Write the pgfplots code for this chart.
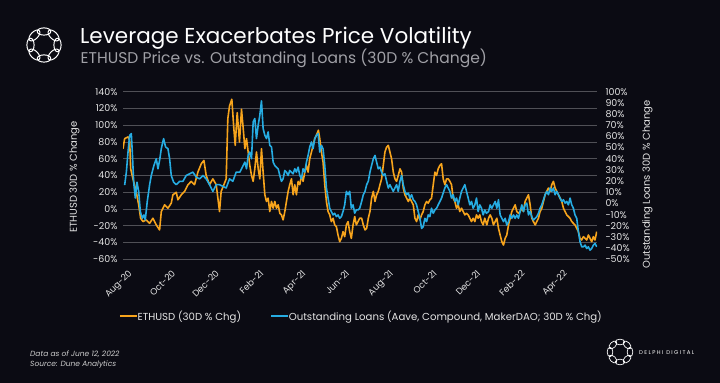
\documentclass[border=0pt]{standalone}
\usepackage{fontspec}
\setmainfont{Poppins}
\usepackage{pgfplots}
\usepackage{pgfplotstable}
\pgfplotsset{compat=1.18}
\definecolor{bg}{RGB}{11,11,19}
\definecolor{ethc}{RGB}{247,164,28}
\definecolor{loanc}{RGB}{38,172,226}
\definecolor{gridc}{RGB}{80,80,86}
\definecolor{tickc}{RGB}{228,228,228}
\definecolor{subc}{RGB}{160,160,166}
\definecolor{footc}{RGB}{205,205,205}

% ETHUSD 30D % change (left axis), x = days since 1 Aug 2020
\pgfplotstableread{
day val
0 72
2.3 84
4.7 85
7.0 86
9.3 82
10.7 48
13.9 36
18.6 20
21.9 5
24.6 -11
27.9 -15
32.5 -13
37.2 -17
41.8 -11
46.5 -19
51.1 -25
53.5 -3
58.1 5
62.8 1
67.4 7
69.7 17
74.4 20
76.7 11
81.4 17
86.0 21
90.7 29
95.3 33
99.9 29
104.6 44
109.3 54
113.0 58
116.2 40
120.9 29
125.5 36
130.2 29
132.5 13
134.8 -3
137.1 21
140.9 29
144.1 36
146.4 108
148.8 123
152.0 131
154.8 96
156.7 76
159.5 115
162.7 80
165.5 119
167.9 96
170.2 72
172.5 84
174.8 68
177.1 52
179.5 40
181.8 33
184.1 48
186.4 68
188.8 48
191.1 36
193.4 72
195.7 44
198.1 17
200.4 9
202.7 13
205.0 -3
207.4 9
209.7 1
212.0 9
214.3 1
216.7 5
219.0 -5
221.3 -7
223.6 -13
226.0 -3
228.3 9
230.6 21
232.9 29
235.3 36
237.6 17
239.9 29
242.2 17
244.6 33
246.9 29
249.2 40
251.5 33
253.9 44
256.2 52
258.5 44
260.8 60
263.2 68
265.5 76
267.8 84
270.1 88
272.9 94
274.8 84
277.1 68
279.4 56
281.8 29
284.1 9
286.4 -3
288.7 -7
291.0 -15
293.4 -11
295.7 -19
298.0 -21
300.3 -31
302.7 -39
305.0 -35
307.3 -27
309.6 -33
312.0 -19
314.3 -15
316.6 -27
318.9 -35
321.3 -19
323.6 -9
325.9 -19
328.2 -15
330.6 -11
333.3 -11
335.6 -19
338.0 -25
340.3 -23
342.6 -11
344.9 -3
347.2 13
349.6 21
351.9 9
354.2 17
356.5 21
358.9 29
361.2 36
363.5 52
365.8 68
368.2 74
370.5 76
372.8 68
375.1 60
377.5 44
379.8 36
382.1 33
384.4 40
386.8 48
389.1 44
391.4 25
393.7 17
396.1 13
398.4 9
400.7 13
403.0 9
405.4 5
407.7 -11
410.0 -15
412.3 -7
414.7 -13
417.0 -7
419.3 -3
421.6 5
424.0 9
426.3 7
428.6 11
430.9 13
433.3 29
435.6 44
437.9 40
440.2 48
442.6 52
444.9 54
447.2 36
449.5 29
451.9 36
454.2 36
456.5 33
458.8 29
461.1 13
463.5 9
465.8 1
468.1 5
470.4 -3
472.8 1
475.1 -3
477.4 -7
479.7 -5
482.1 -7
484.4 -11
486.7 -15
489.0 -11
491.4 -15
493.7 -7
496.0 -11
498.3 -7
500.7 -15
503.0 -19
505.3 -11
508.1 -19
510.5 -11
512.8 -7
515.1 -11
517.4 -19
519.8 -15
522.1 -11
524.4 -23
526.7 -31
529.1 -39
531.4 -43
533.7 -35
536.0 -31
538.4 -19
540.7 -11
543.0 -3
545.3 1
547.7 5
550.0 -3
552.3 -5
554.6 -3
557.0 1
559.3 -3
561.6 9
563.9 13
566.3 17
568.6 5
570.9 -11
573.2 -15
575.6 -19
577.9 -15
580.2 -11
582.5 -3
584.9 1
587.2 9
589.5 17
591.8 21
594.2 25
596.5 21
598.8 29
601.1 33
603.5 25
605.8 21
608.1 17
610.4 13
612.8 9
615.1 1
617.4 -3
619.7 -7
622.1 -9
624.4 -11
626.7 -15
629.0 -17
631.3 -19
633.7 -23
636.0 -27
638.3 -35
640.6 -37
643.0 -33
645.3 -35
647.6 -37
649.9 -31
652.3 -35
654.6 -39
656.9 -33
659.2 -37
661.6 -27
}\ethtable

% Outstanding loans 30D % change (right axis)
\pgfplotstableread{
day val
2.3 16.4
4.7 28
7.0 46
9.3 61
11.6 62.5
13.0 46
14.9 19
17.2 4.8
19.5 19
21.9 10.8
24.2 -7.3
27.0 -13.3
29.3 -10.3
31.1 -14.8
33.9 1.8
37.2 16.8
39.5 25
43.2 34
46.5 40
48.8 31
51.1 38.5
53.5 49
56.7 58
59.5 50.5
62.8 49
65.1 40
67.4 25
70.7 19
74.4 16.8
79.0 19.8
83.7 19.8
88.3 25
93.0 26.5
97.6 28
102.3 23.5
106.9 22
111.6 25
116.2 22
120.9 16.8
125.5 10.8
130.2 16.8
134.8 16.8
139.5 15.3
144.1 13.8
148.8 22
153.4 19.8
158.1 28
163.2 28
165.5 31
167.9 34
170.2 37
172.5 31
174.8 43
177.1 46
179.5 40
181.8 73
184.1 76
186.4 58
188.8 70
191.1 79
193.4 91.8
195.7 67
198.1 61
200.4 58
202.7 64
205.0 52
207.4 50.5
209.7 37
212.0 34
214.3 32.5
216.7 31
219.0 25
221.3 19.8
223.6 22
226.0 29.5
228.3 28
230.6 25
232.9 29.5
235.3 28
237.6 26.5
239.9 31
242.2 28
244.6 32.5
246.9 25
249.2 22
251.5 31
253.9 28
256.2 37
258.5 43
260.8 50.5
263.2 55
265.5 49
267.8 58
270.1 61
272.5 62.5
274.8 46
277.1 52
279.4 49
281.8 34
284.1 13.8
286.4 4.8
288.7 -4.3
291.0 -7.3
293.4 -10.3
295.7 -8.8
298.0 -11.8
300.3 -10.3
302.7 -13.3
305.0 -11.8
307.3 -7.3
309.6 -1.3
312.0 10.8
314.3 7.8
316.6 10.8
318.9 -4.3
321.3 -1.3
323.6 -8.8
325.9 -5.8
328.2 -5.8
330.6 -4.3
333.3 1.8
335.6 7.8
338.0 10.8
340.3 16.8
342.6 19.8
344.9 28
347.2 34
349.6 40
351.9 43
354.2 37
356.5 31
358.9 32.5
361.2 28
363.5 25
365.8 26.5
368.2 19.8
370.5 13.8
372.8 16.8
375.1 13.8
377.5 10.8
379.8 13.8
382.1 16.8
384.4 10.8
386.8 19.8
389.1 25
391.4 16.8
393.7 10.8
396.1 7.8
398.4 9.3
400.7 4.8
403.0 7.8
405.4 3.3
407.7 1.8
410.0 -1.3
412.3 -7.3
414.7 -13.3
417.0 -22.3
419.3 -20.8
421.6 -13.3
424.0 -16.3
426.3 -10.3
428.6 -11.8
430.9 -4.3
433.3 -8.8
435.6 -5.8
437.9 -4.3
440.2 -1.3
442.6 1.8
444.9 4.8
447.2 9.3
449.5 13.8
451.9 16.8
454.2 13.8
456.5 10.8
458.8 4.8
461.1 7.8
463.5 1.8
465.8 4.8
468.1 -1.3
470.4 4.8
472.8 10.8
475.1 13.8
477.4 16.8
479.7 10.8
482.1 4.8
484.4 -1.3
486.7 1.8
489.0 -4.3
491.4 -1.3
493.7 4.8
496.0 -7.3
498.3 -1.3
500.7 -4.3
503.0 -10.3
505.3 -5.8
507.6 -8.8
510.5 -7.3
512.8 -1.3
515.1 -4.3
517.4 -1.3
519.8 1.8
522.1 -4.3
524.4 3.3
526.7 -10.3
529.1 -13.3
531.4 -16.3
533.7 -13.3
536.0 -19.3
538.4 -16.3
540.7 -10.3
543.0 -13.3
545.3 -10.3
547.7 -13.3
550.0 -10.3
552.3 -13.3
554.6 -7.3
557.0 -1.3
559.3 -7.3
561.6 -1.3
563.9 0.3
566.3 -10.3
568.6 -7.3
570.9 -11.8
573.2 -14.8
575.6 -13.3
577.9 -11.8
580.2 -8.8
582.5 -4.3
584.9 -1.3
587.2 3.3
589.5 7.8
591.8 10.8
594.2 7.8
596.5 13.8
598.8 10.8
601.1 13.8
603.5 7.8
605.8 10.8
608.1 7.8
610.4 4.8
612.8 1.8
615.1 3.3
617.4 0.3
619.7 1.8
622.1 -1.3
624.4 4.8
626.7 -1.3
629.0 -4.3
631.3 -10.3
633.7 -13.3
636.0 -25.3
638.3 -34.3
640.6 -38.8
643.0 -38.8
645.3 -37.3
647.6 -40.3
649.9 -38.8
652.3 -41.8
654.6 -40.3
656.9 -37.3
659.2 -35.8
661.6 -38.8
}\loantable

\begin{document}
\begin{tikzpicture}
\path[use as bounding box] (0bp,0bp) rectangle (720bp,383bp);
\fill[bg] (0bp,0bp) rectangle (720bp,383bp);

% logo top-left
\begin{scope}[shift={(44bp,338bp)}, white, line width=1bp]
\foreach \a in {0,45,...,315} {
  \draw[rotate=\a] (13.5bp,0bp) ellipse [x radius=3.6bp, y radius=6.8bp];
}
\end{scope}

% title and subtitle
\node[anchor=base west, inner sep=0pt, text=white, font=\fontsize{21.6}{26}\selectfont] at (80bp,339bp) {Leverage Exacerbates Price Volatility};
\node[anchor=base west, inner sep=0pt, text=subc, font=\fontsize{15.6}{18}\selectfont] at (80.5bp,319.5bp) {ETHUSD Price vs. Outstanding Loans (30D \% Change)};

% axis titles
\node[rotate=90, text=tickc, font=\fontsize{10}{12}\selectfont] at (74.5bp,206bp) {ETHUSD 30D \% Change};
\node[rotate=90, text=tickc, font=\fontsize{10}{12}\selectfont] at (647.5bp,198.5bp) {Outstanding Loans 30D \% Change};

\begin{axis}[
  at={(123bp,123.7bp)}, anchor=south west,
  scale only axis, width=474bp, height=167.6bp,
  xmin=0, xmax=662, ymin=-60, ymax=140,
  axis line style={draw=none},
  tick style={draw=none},
  major tick length=0pt,
  ytick={-60,-40,-20,0,20,40,60,80,100,120,140},
  yticklabels={-60\%,-40\%,-20\%,0\%,20\%,40\%,60\%,80\%,100\%,120\%,140\%},
  yticklabel style={text=tickc, font=\fontsize{9.5}{11}\selectfont, anchor=east, xshift=-2bp},
  ymajorgrids,
  grid style={gridc, line width=0.9bp},
  xtick={0,61,122,184,243,304,365,426,487,549,608},
  xticklabels={Aug-20,Oct-20,Dec-20,Feb-21,Apr-21,Jun-21,Aug-21,Oct-21,Dec-21,Feb-22,Apr-22},
  xticklabel style={text=tickc, font=\fontsize{9}{11}\selectfont, rotate=45, anchor=north east, xshift=-0.5bp, yshift=-7bp},
]
\addplot[ethc, line width=1.6bp, line join=round] table[x=day, y=val] {\ethtable};
\end{axis}

\begin{axis}[
  at={(123bp,123.7bp)}, anchor=south west,
  scale only axis, width=474bp, height=167.6bp,
  xmin=0, xmax=662, ymin=-50, ymax=100,
  axis y line*=right, axis x line=none,
  axis line style={draw=none},
  tick style={draw=none},
  major tick length=0pt,
  ytick={-50,-40,-30,-20,-10,0,10,20,30,40,50,60,70,80,90,100},
  yticklabels={-50\%,-40\%,-30\%,-20\%,-10\%,0\%,10\%,20\%,30\%,40\%,50\%,60\%,70\%,80\%,90\%,100\%},
  yticklabel style={text=tickc, font=\fontsize{9.5}{11}\selectfont, anchor=west, xshift=5bp},
  legend style={at={(0.503,-0.34)}, anchor=center, draw=none, fill=none,
    text=tickc, font=\fontsize{10.2}{12}\selectfont, legend columns=2,
    /tikz/every even column/.append style={column sep=27bp},
    /tikz/every odd column/.append style={column sep=-2bp},
    legend cell align=left},
  legend image code/.code={\draw[#1] (0bp,0bp) -- (17bp,0bp);},
]
\addlegendimage{ethc, line width=1.6bp}
\addlegendentry{ETHUSD (30D \% Chg)}
\addplot[loanc, line width=1.6bp, line join=round] table[x=day, y=val] {\loantable};
\addlegendentry{Outstanding Loans (Aave, Compound, MakerDAO; 30D \% Chg)}
\end{axis}

% footer
\node[anchor=base west, inner sep=0pt, text=footc, font=\fontsize{7.5}{9}\selectfont\itshape] at (30bp,27bp) {Data as of June 12, 2022};
\node[anchor=base west, inner sep=0pt, text=footc, font=\fontsize{7.5}{9}\selectfont\itshape] at (30bp,16.5bp) {Source: Dune Analytics};

% logo bottom-right
\begin{scope}[shift={(620bp,31bp)}, white, line width=0.7bp]
\foreach \a in {0,45,...,315} {
  \draw[rotate=\a] (10bp,0bp) ellipse [x radius=2.8bp, y radius=4.8bp];
}
\end{scope}
\node[anchor=west, inner sep=0pt, text=white, font=\fontsize{5.5}{7}\selectfont\addfontfeatures{LetterSpace=25}] at (639bp,30bp) {DELPHI DIGITAL};
\end{tikzpicture}
\end{document}
